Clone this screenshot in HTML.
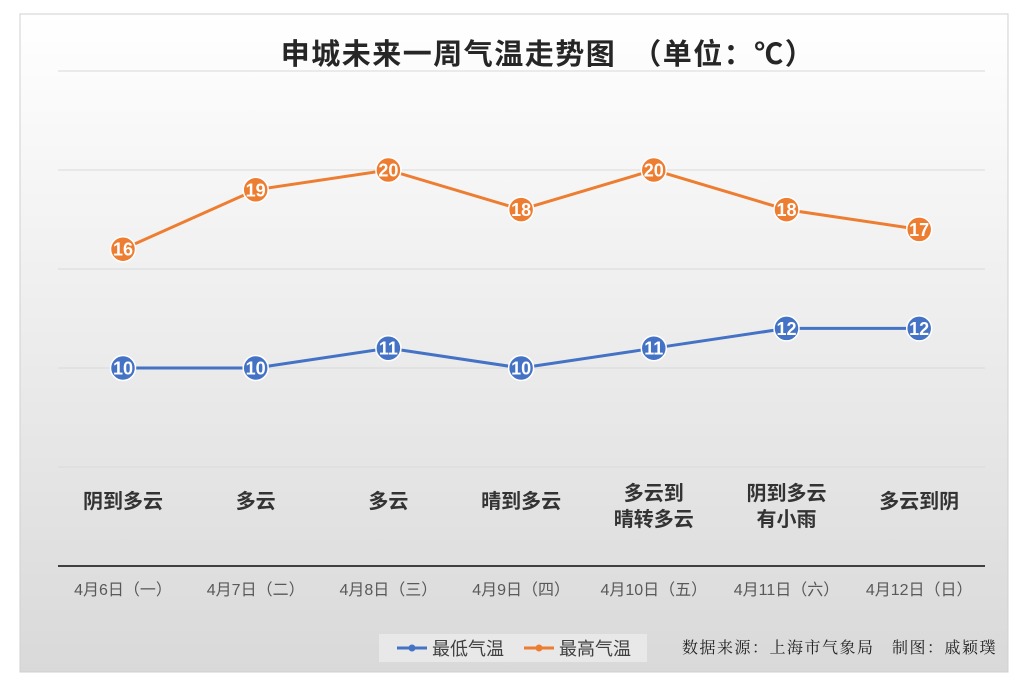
<!DOCTYPE html>
<html><head><meta charset="utf-8"><style>
body{margin:0;width:1024px;height:684px;background:#fff;overflow:hidden}
svg text{font-family:"Liberation Sans","Noto Sans CJK SC",sans-serif}
</style></head><body>
<svg id="c" width="1024" height="684">
<defs><linearGradient id="bg" x1="0" y1="0" x2="0" y2="1"><stop offset="0" stop-color="#ffffff"/><stop offset="1" stop-color="#d9d9d9"/></linearGradient></defs>
<rect x="20" y="14" width="988" height="658" fill="url(#bg)" stroke="#d0d0d0"/>
<text x="548" y="64" text-anchor="middle" font-size="29" font-weight="bold" fill="#262626" letter-spacing="1.5">申城未来一周气温走势图　（单位：℃）</text>
<g id="grid"></g><g id="lines"></g><g id="xl"></g>
<g>
<rect x="379" y="634" width="268" height="28" fill="#e8e8e8"/>
<line x1="397" y1="648" x2="427" y2="648" stroke="#4472c4" stroke-width="3"/><circle cx="412" cy="648" r="3.5" fill="#4472c4"/>
<text x="432" y="655" font-size="18" fill="#404040">最低气温</text>
<line x1="524" y1="648" x2="554" y2="648" stroke="#ed7d31" stroke-width="3"/><circle cx="539" cy="648" r="3.5" fill="#ed7d31"/>
<text x="559" y="655" font-size="18" fill="#404040">最高气温</text>
</g>
<text x="997" y="653" text-anchor="end" font-size="16" fill="#222" letter-spacing="1.5" style="font-family:'Noto Serif CJK SC',serif">数据来源：上海市气象局　制图：戚颖璞</text>
</svg>
<script>
const weather=["阴到多云","多云","多云","晴到多云","多云到|晴转多云","阴到多云|有小雨","多云到阴"];
const dates=["4月6日（一）","4月7日（二）","4月8日（三）","4月9日（四）","4月10日（五）","4月11日（六）","4月12日（日）"];
const lowTemps=[10,10,11,10,11,12,12];
const highTemps=[16,19,20,18,20,18,17];
const yTicks=[5,10,15,20,25];
const NS="http://www.w3.org/2000/svg";
const x=i=>123+i*132.7;
const y=v=>566-v*19.8;
function mk(t,a,p){const e=document.createElementNS(NS,t);for(const k in a)e.setAttribute(k,a[k]);p.appendChild(e);return e;}
const g=document.getElementById('grid');
yTicks.forEach(v=>{const l=mk('line',{x1:58,x2:985,y1:y(v),y2:y(v),stroke:'#d9d9d9','stroke-width':1},g);

});
const ax=mk('line',{x1:58,x2:985,y1:y(0),y2:y(0),stroke:'#404040','stroke-width':2},g);


const xl=document.getElementById('xl');
weather.forEach((w,i)=>{const parts=w.split('|');const y0=parts.length>1?500:508;
parts.forEach((p,j)=>{const t=mk('text',{x:x(i),y:y0+j*26,'text-anchor':'middle','font-size':20,'font-weight':'bold',fill:'#333'},xl);t.textContent=p;

});
const d=mk('text',{x:x(i),y:595,'text-anchor':'middle','font-size':16,fill:'#595959'},xl);d.textContent=dates[i];

});
const L=document.getElementById('lines');
function series(vals,col,name){
const pl=mk('polyline',{points:vals.map((v,i)=>x(i)+','+y(v)).join(' '),fill:'none',stroke:col,'stroke-width':3},L);


vals.forEach((v,i)=>{const c=mk('circle',{cx:x(i),cy:y(v),r:12.5,fill:col,stroke:'#fff','stroke-width':1.5},L);


const t=mk('text',{x:x(i),y:y(v)+6.5,'text-anchor':'middle','font-size':18,'font-weight':'bold',fill:'#fff'},L);t.textContent=v;

});}
series(highTemps,'#ed7d31','high-temp');
series(lowTemps,'#4472c4','low-temp');
</script>
</body></html>
